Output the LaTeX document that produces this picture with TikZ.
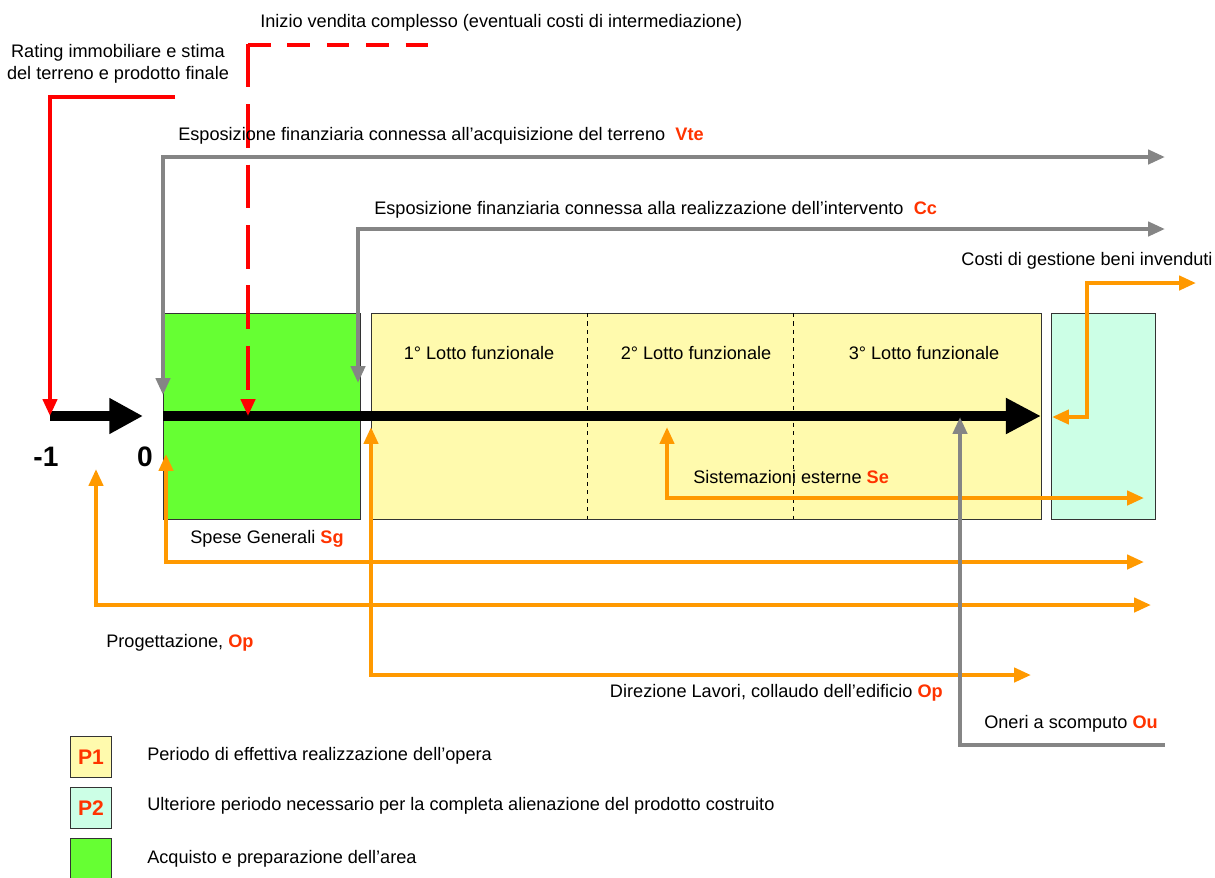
\documentclass[tikz,border=0pt]{standalone}
\usepackage{fontspec}
\setmainfont{Liberation Sans}
\usetikzlibrary{arrows.meta}
\definecolor{verde}{HTML}{66FF33}
\definecolor{giallo}{HTML}{FFFAAD}
\definecolor{acqua}{HTML}{CCFFE6}
\definecolor{arancio}{HTML}{FF9900}
\definecolor{grigio}{HTML}{858585}
\definecolor{rosso}{HTML}{FF0000}
\definecolor{sigla}{HTML}{FF3300}
\newcommand{\sig}[1]{\textcolor{sigla}{\textbf{#1}}}
\tikzset{
  testo/.style={inner sep=0pt,font=\fontsize{12.9}{15.5}\selectfont},
  punta/.tip={Triangle[length=12pt,width=10pt]},
  grigia/.style={draw=grigio,line width=2.8pt},
  arancia/.style={draw=arancio,line width=2.8pt},
  rossa/.style={draw=rosso,line width=2.8pt},
  periodo/.style={draw=black!80,line width=0.6pt},
  legenda/.style={periodo,minimum width=1.02cm,minimum height=1.02cm,inner sep=0pt,
    font=\fontsize{15}{18}\selectfont\bfseries\color{sigla}}
}
\begin{document}
\begin{tikzpicture}[x=0.025cm,y=-0.025cm,line join=miter]
\useasboundingbox (0,0) rectangle (1215,877);
% periodi
\draw[periodo,fill=verde] (163,313) rectangle (360,519);
\draw[periodo,fill=giallo] (371,313) rectangle (1041,519);
\draw[periodo,fill=acqua] (1051,313) rectangle (1155,519);
\draw[dashed,line width=0.6pt] (587,313)--(587,519);
\draw[dashed,line width=0.6pt] (793,313)--(793,519);
\node[testo] (l1) at (479,353) {1° Lotto funzionale};
\node[testo] (l2) at (696,353) {2° Lotto funzionale};
\node[testo] (l3) at (924,353) {3° Lotto funzionale};
% asse dei tempi
\coordinate (m1) at (50,416);
\coordinate (t0) at (163,416);
\coordinate (fine) at (1041,416);
\draw[line width=7pt,-{Triangle[length=24pt,width=24pt]}] (m1)--(143,416);
\draw[line width=7pt,-{Triangle[length=25pt,width=24pt]}] (t0)--(fine);
\node[font=\fontsize{20}{24}\selectfont\bfseries] (n1) at (46,457) {-1};
\node[font=\fontsize{20}{24}\selectfont\bfseries] (n0) at (145,457) {0};
% rating e vendita
\node[testo,align=center] (rating) at (118,64) {Rating immobiliare e stima\\del terreno e prodotto finale};
\coordinate (r1) at (175,97);
\draw[rossa,-punta] (r1)--(50,97)--(m1);
\node[testo,anchor=west] (vendita) at (260,23) {Inizio vendita complesso (eventuali costi di intermediazione)};
\coordinate (v1) at (440,45);
\coordinate (vc) at (248,45);
\coordinate (v2) at (248,416);
\draw[rossa,dash pattern=on 16pt off 12pt] (vc)--(v1);
\draw[rossa,dash pattern=on 31pt off 12pt,-punta] ([yshift=1pt]vc)--(v2);
% esposizioni finanziarie
\node[testo,anchor=west] (vte) at (178,136) {Esposizione finanziaria connessa all’acquisizione del terreno\ \ \sig{Vte}};
\coordinate (e1) at (163,395);
\coordinate (e2) at (1165,157);
\draw[grigia,punta-punta] (e1)--(163,157)--(e2);
\node[testo,anchor=west] (cc) at (374,210) {Esposizione finanziaria connessa alla realizzazione dell’intervento\ \ \sig{Cc}};
\coordinate (c1) at (358,383);
\coordinate (c2) at (1165,229);
\draw[grigia,punta-punta] (c1)--(358,229)--(c2);
% costi di gestione
\node[testo] (gestione) at (1087,261) {Costi di gestione beni invenduti};
\coordinate (g1) at (1052,417);
\coordinate (g2) at (1196,283);
\draw[arancia,punta-punta] (g1)--(1087,417)--(1087,283)--(g2);
% sistemazioni esterne
\node[testo,anchor=west] (se) at (693,477) {Sistemazioni esterne \sig{Se}};
\coordinate (s1) at (667,427);
\coordinate (s2) at (1144,498);
\draw[arancia,punta-punta] (s1)--(667,498)--(s2);
% spese generali
\node[testo] (sg) at (267,539) {Spese Generali \sig{Sg}};
\coordinate (sp1) at (166,454);
\coordinate (sp2) at (1144,562);
\draw[arancia,punta-punta] (sp1)--(166,562)--(sp2);
% progettazione
\node[testo,anchor=west] (op) at (106,643) {Progettazione, \sig{Op}};
\coordinate (p1) at (96,469);
\coordinate (p2) at (1151,605);
\draw[arancia,punta-punta] (p1)--(96,605)--(p2);
% direzione lavori
\node[testo,anchor=east] (dl) at (943,693) {Direzione Lavori, collaudo dell’edificio \sig{Op}};
\coordinate (d1) at (371,427);
\coordinate (d2) at (1031,675);
\draw[arancia,punta-punta] (d1)--(371,675)--(d2);
% oneri a scomputo
\node[testo,anchor=west] (ou) at (984,724) {Oneri a scomputo \sig{Ou}};
\coordinate (o1) at (960,417);
\coordinate (o2) at (1165,745);
\draw[grigia,punta-] (o1)--(960,745)--(o2);
% legenda
\node[legenda,fill=giallo] (P1) at (91,757) {P1};
\node[legenda,fill=acqua] (P2) at (91,808) {P2};
\node[legenda,fill=verde] (P3) at (91,859) {};
\node[testo,anchor=west] (tp1) at (147,756) {Periodo di effettiva realizzazione dell’opera};
\node[testo,anchor=west] (tp2) at (147,806) {Ulteriore periodo necessario per la completa alienazione del prodotto costruito};
\node[testo,anchor=west] (tp3) at (147,859) {Acquisto e preparazione dell’area};
\end{tikzpicture}
\end{document}
